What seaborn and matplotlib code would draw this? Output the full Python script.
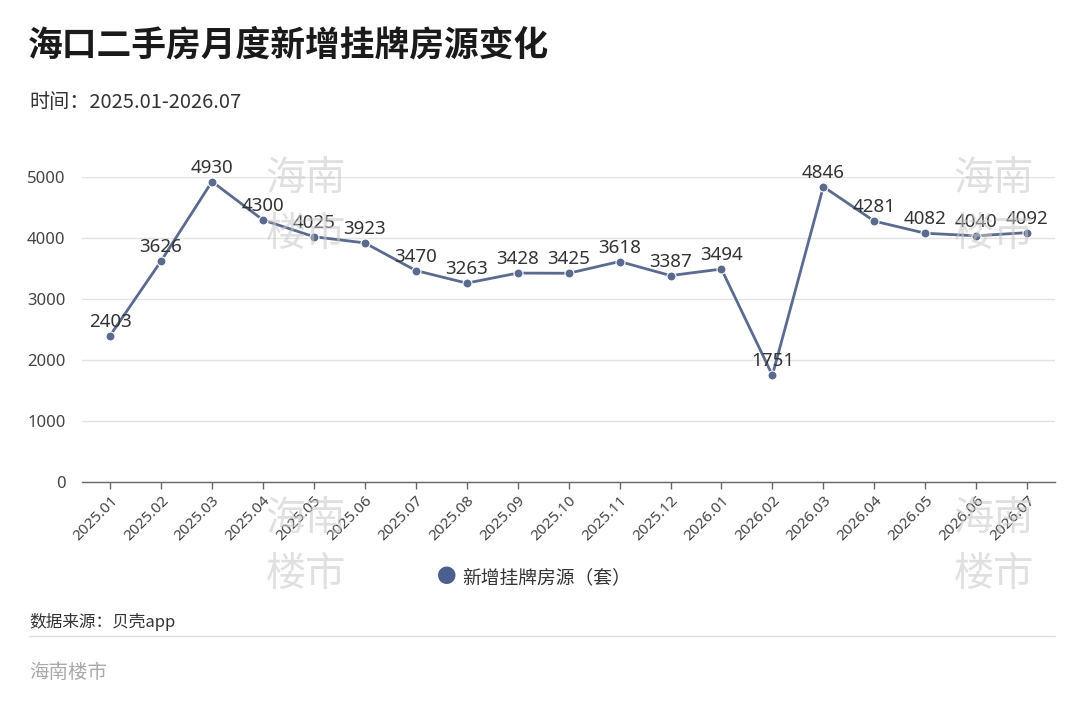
import matplotlib
matplotlib.use("Agg")
import matplotlib.pyplot as plt
import seaborn as sns
import pandas as pd

# chart data
months = ["2025.01", "2025.02", "2025.03", "2025.04", "2025.05", "2025.06", "2025.07",
          "2025.08", "2025.09", "2025.10", "2025.11", "2025.12", "2026.01", "2026.02",
          "2026.03", "2026.04", "2026.05", "2026.06", "2026.07"]
listings = [2403, 3626, 4930, 4300, 4025, 3923, 3470, 3263, 3428, 3425, 3618, 3387,
            3494, 1751, 4846, 4281, 4082, 4040, 4092]
y_ticks = [0, 1000, 2000, 3000, 4000, 5000]

series_name = "新增挂牌房源（套）"
title = "海口二手房月度新增挂牌房源变化"
subtitle = "时间：2025.01-2026.07"
source = "数据来源：贝壳app"
brand = "海南楼市"

df = pd.DataFrame({"month": months, "value": listings})
df["pos"] = range(len(df))

sns.set_theme(style="white")
plt.rcParams["font.family"] = ["Noto Sans CJK SC", "DejaVu Sans"]
num_font = ["Noto Sans", "DejaVu Sans"]

line_color = "#5b6a8f"

fig = plt.figure(figsize=(10.8, 7.15), dpi=100)
ax = fig.add_axes([0.076, 0.326, 0.901, 0.426])

# watermarks, drawn faintly behind everything
for wx, wy in [(0.283, 0.75), (0.92, 0.75), (0.283, 0.275), (0.92, 0.275)]:
    fig.text(wx, wy, "海南", fontsize=29, color="#c8c8c8", alpha=0.55,
             ha="center", va="center", style="italic", zorder=0)
    fig.text(wx, wy - 0.078, "楼市", fontsize=29, color="#c8c8c8", alpha=0.55,
             ha="center", va="center", style="italic", zorder=0)

sns.lineplot(data=df, x="pos", y="value", ax=ax, color=line_color, linewidth=2,
             marker="o", markersize=6.5, markeredgecolor="white", markeredgewidth=0.8,
             legend=False)

for x, y in zip(df["pos"], df["value"]):
    ax.text(x, y + 80, str(y), ha="center", va="bottom", fontsize=13.5,
            family=num_font, color="#333333", clip_on=False)

ax.set_xlim(-0.55, len(months) - 0.45)
ax.set_ylim(0, 5000)
ax.set_yticks(y_ticks)
ax.set_yticklabels([str(t) for t in y_ticks], fontsize=12, color="#444444", family=num_font)
ax.set_xticks(df["pos"])
ax.set_xticklabels(months, rotation=45, ha="right", rotation_mode="anchor",
                   fontsize=11, color="#444444", family=num_font)
ax.set_xlabel("")
ax.set_ylabel("")
ax.grid(axis="y", color="#e3e3e3", linewidth=1)
ax.set_axisbelow(True)
ax.patch.set_alpha(0)
for s in ["top", "right", "left"]:
    ax.spines[s].set_visible(False)
ax.spines["bottom"].set_color("#666666")
ax.spines["bottom"].set_linewidth(1)
ax.tick_params(axis="x", bottom=True, length=5, width=1, color="#666666", pad=3)
ax.tick_params(axis="y", left=False, pad=6)

# legend
fig.text(0.405, 0.192, "●", fontsize=14, color="#4d5f8f", ha="left", va="center")
fig.text(0.428, 0.192, series_name, fontsize=13.5, color="#333333", ha="left", va="center")

fig.text(0.026, 0.937, title, fontsize=25, fontweight="bold", color="#1a1a1a",
         ha="left", va="center")
fig.text(0.027, 0.857, subtitle, fontsize=14.5, color="#333333", ha="left", va="center")
fig.text(0.027, 0.130, source, fontsize=12, color="#333333", ha="left", va="center")
fig.add_artist(plt.Line2D([0.027, 0.977], [0.110, 0.110], color="#dddddd", linewidth=1))
fig.text(0.027, 0.060, brand, fontsize=14, color="#aaaaaa", ha="left", va="center")

fig.savefig("out.png", dpi=100, facecolor="white")
